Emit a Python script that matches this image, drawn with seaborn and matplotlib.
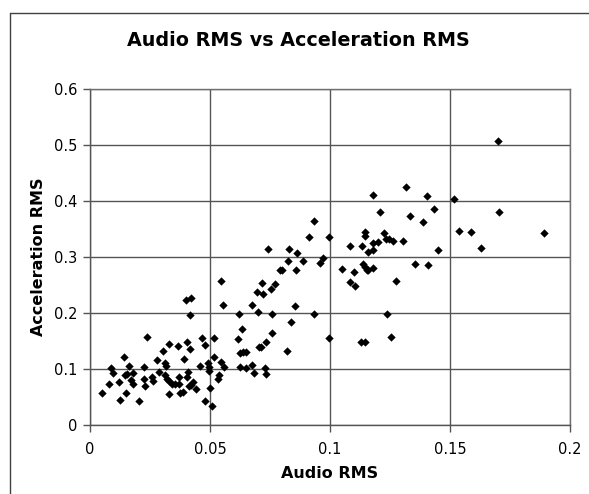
import numpy as np
import pandas as pd
import matplotlib
matplotlib.use("Agg")
import matplotlib.pyplot as plt
import seaborn as sns
from matplotlib.lines import Line2D

# Audio RMS vs Acceleration RMS
audio_rms = [
    0.0051, 0.0079, 0.0086, 0.0094, 0.0122, 0.0126, 0.0142, 0.0150, 0.0146, 0.0163,
    0.0156, 0.0169, 0.0178, 0.0180, 0.0203, 0.0225, 0.0225, 0.0229, 0.0236, 0.0258,
    0.0264, 0.0280, 0.0286, 0.0306, 0.0313, 0.0317, 0.0314, 0.0320, 0.0328, 0.0328,
    0.0329, 0.0343, 0.0353, 0.0365, 0.0370, 0.0372, 0.0375, 0.0389, 0.0392, 0.0403,
    0.0406, 0.0400, 0.0410, 0.0414, 0.0417, 0.0417, 0.0420, 0.0420, 0.0428, 0.0440,
    0.0458, 0.0467, 0.0479, 0.0480, 0.0490, 0.0494, 0.0497, 0.0500, 0.0510, 0.0517,
    0.0518, 0.0532, 0.0539, 0.0544, 0.0546, 0.0556, 0.0558, 0.0615, 0.0619, 0.0624,
    0.0626, 0.0633, 0.0636, 0.0650, 0.0650, 0.0674, 0.0675, 0.0685, 0.0697, 0.0700,
    0.0703, 0.0714, 0.0715, 0.0722, 0.0731, 0.0733, 0.0733, 0.0742, 0.0753, 0.0757,
    0.0760, 0.0771, 0.0793, 0.0801, 0.0820, 0.0824, 0.0828, 0.0838, 0.0856, 0.0860,
    0.0861, 0.0889, 0.0914, 0.0932, 0.0960, 0.0970, 0.0997, 0.0997, 0.0935,
    0.1085, 0.1133, 0.1146, 0.1147, 0.1158, 0.1178, 0.1179, 0.1180, 0.1201, 0.1208,
    0.1226, 0.1232, 0.1247, 0.1262, 0.1304, 0.1315, 0.1333, 0.1389, 0.1404, 0.1435,
    0.1451, 0.1517, 0.1538, 0.1586, 0.1631, 0.1700, 0.1703, 0.1892,
    0.1051, 0.1100, 0.1083, 0.1104, 0.1136, 0.1144, 0.1153, 0.1160, 0.1178, 0.1275,
    0.1237, 0.1253, 0.1128, 0.1147, 0.1356, 0.1410,
]
accel_rms = [
    0.0565, 0.0726, 0.1010, 0.0920, 0.0770, 0.0450, 0.1210, 0.0565, 0.0900, 0.1050,
    0.0910, 0.0800, 0.0930, 0.0730, 0.0420, 0.1030, 0.0820, 0.0690, 0.1580, 0.0860,
    0.0790, 0.1160, 0.0950, 0.1330, 0.1110, 0.1060, 0.0900, 0.0820, 0.1440, 0.0780,
    0.0550, 0.0740, 0.0730, 0.1410, 0.0860, 0.0740, 0.0580, 0.0590, 0.1180, 0.0860,
    0.1480, 0.2230, 0.0940, 0.0700, 0.1360, 0.1960, 0.2270, 0.0710, 0.0760, 0.0640,
    0.1050, 0.1560, 0.1430, 0.0430, 0.1110, 0.1040, 0.0960, 0.0660, 0.0340, 0.1550,
    0.1220, 0.0820, 0.0890, 0.2570, 0.1130, 0.2150, 0.1040, 0.1540, 0.1980, 0.1290,
    0.1040, 0.1710, 0.1310, 0.1300, 0.1020, 0.2150, 0.1080, 0.0920, 0.2380, 0.2010,
    0.1390, 0.1390, 0.2540, 0.2340, 0.1010, 0.0910, 0.1480, 0.3150, 0.2430, 0.1980,
    0.1650, 0.2510, 0.2760, 0.2760, 0.1330, 0.2930, 0.3150, 0.1840, 0.2130, 0.2760,
    0.3080, 0.2930, 0.3350, 0.1980, 0.2890, 0.2990, 0.3350, 0.1560, 0.3640,
    0.3200, 0.3200, 0.3440, 0.3380, 0.3090, 0.3130, 0.3250, 0.4110, 0.3260, 0.3800,
    0.3420, 0.3320, 0.3320, 0.3280, 0.3280, 0.4250, 0.3730, 0.3630, 0.4090, 0.3860,
    0.3130, 0.4030, 0.3460, 0.3440, 0.3160, 0.5080, 0.3800, 0.3430,
    0.2790, 0.2730, 0.2550, 0.2490, 0.2880, 0.2830, 0.2770, 0.2760, 0.2810, 0.2580,
    0.1980, 0.1580, 0.1490, 0.1490, 0.2870, 0.2860,
]

x_ticks = [0, 0.05, 0.1, 0.15, 0.2]
x_tick_labels = ["0", "0.05", "0.1", "0.15", "0.2"]
y_ticks = [0, 0.1, 0.2, 0.3, 0.4, 0.5, 0.6]
y_tick_labels = ["0", "0.1", "0.2", "0.3", "0.4", "0.5", "0.6"]

df = pd.DataFrame({"audio": audio_rms, "accel": accel_rms})

sns.set_style("white")
plt.rcParams["font.family"] = ["DejaVu Sans"]
plt.rcParams["text.color"] = "black"
plt.rcParams["axes.labelcolor"] = "black"
plt.rcParams["xtick.color"] = "black"
plt.rcParams["ytick.color"] = "black"

fig = plt.figure(figsize=(5.89, 4.94), dpi=100)
ax = fig.add_axes([90 / 589, 69 / 494, 480 / 589, 336 / 494])

sns.scatterplot(data=df, x="audio", y="accel", marker="D", s=18, color="black",
                linewidth=0, ax=ax, zorder=3)

ax.set_xlim(0, 0.2)
ax.set_ylim(0, 0.6)
ax.set_xticks(x_ticks)
ax.set_xticklabels(x_tick_labels)
ax.set_yticks(y_ticks)
ax.set_yticklabels(y_tick_labels)
ax.grid(True, color="#555555", linewidth=1)
ax.set_axisbelow(True)
for sp in ax.spines.values():
    sp.set_color("#707070")
    sp.set_linewidth(1)
ax.spines["left"].set_color("#555555")
ax.spines["bottom"].set_color("#555555")
ax.tick_params(axis="both", direction="out", length=5, width=1, color="#555555",
               labelcolor="black", labelsize=10.5, pad=4, left=True, bottom=True)
ax.tick_params(axis="x", pad=7)

ax.set_xlabel("Audio RMS", fontsize=11.5, fontweight="bold", labelpad=7, color="black")
ax.set_ylabel("Acceleration RMS", fontsize=11.5, fontweight="bold", labelpad=6, color="black")

fig.text(298 / 589, 1 - 40 / 494, "Audio RMS vs Acceleration RMS", ha="center",
         va="center", fontsize=13.8, fontweight="bold", color="black")

# chart frame (only left and top edges visible in the crop)
fig.add_artist(Line2D([10 / 589, 10 / 589], [0, 1 - 13 / 494], color="#404040", linewidth=1))
fig.add_artist(Line2D([10 / 589, 1], [1 - 13 / 494, 1 - 13 / 494], color="#404040", linewidth=1))

fig.savefig("out.png", dpi=100)
